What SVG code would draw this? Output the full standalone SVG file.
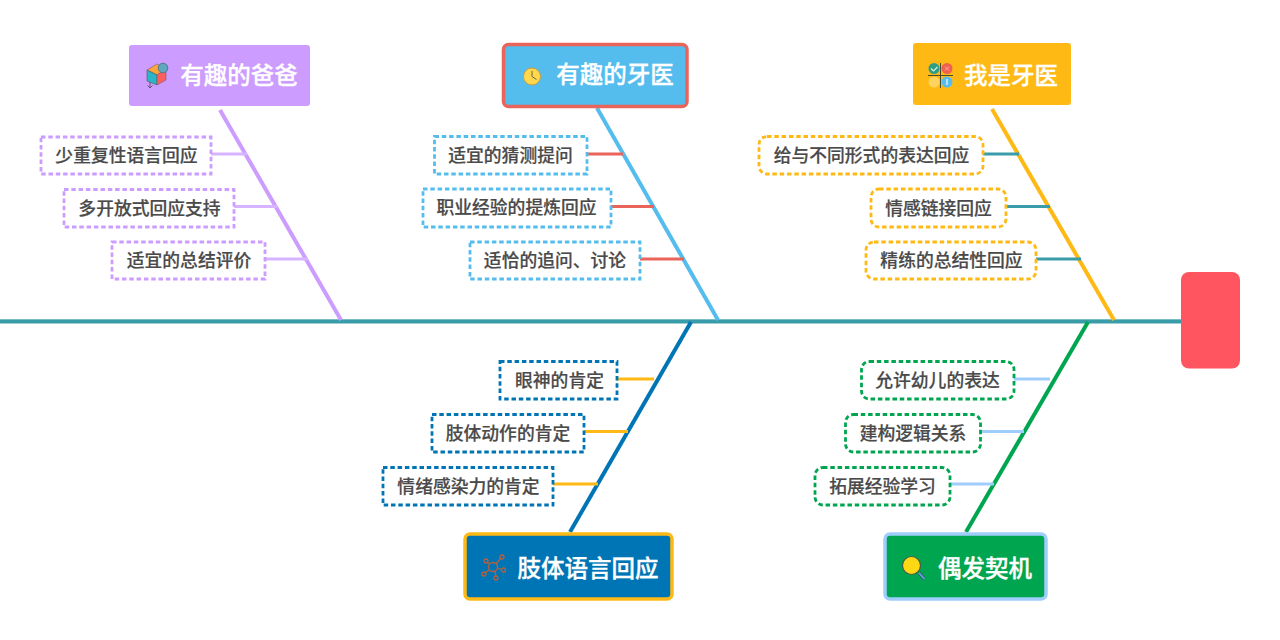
<svg xmlns="http://www.w3.org/2000/svg" width="1280" height="640" viewBox="0 0 1280 640">
<style>
text{font-family:"Noto Sans CJK SC","Noto Sans",sans-serif;text-anchor:middle}
.t{font-size:23.5px;font-weight:500;fill:#fff;stroke:#fff;stroke-width:.3}
.s{font-size:17.8px;font-weight:500;fill:#4a4a4a;stroke:#4a4a4a;stroke-width:.2}
.b{fill:#fff;stroke-width:2.800;stroke-dasharray:4.500 2.800}
.p{stroke:#cc9cff}.u{stroke:#55bdee}.y{stroke:#ffb914}.d{stroke:#0075b5}.g{stroke:#00a64f}
line{fill:none}
.m{stroke-width:4}.l{stroke-width:3}
</style>
<g id="connectors">
<line x1="0" y1="319.500" x2="1181" y2="319.500" stroke="#b8dfe2" stroke-width="1"/>
<line x1="0" y1="321.500" x2="1181" y2="321.500" stroke="#3a9ca8" stroke-width="3.800"/>
<line class="m p" x1="220" y1="110" x2="341" y2="320"/>
<line class="m u" x1="597" y1="108" x2="718" y2="320"/>
<line class="m y" x1="992" y1="109" x2="1114" y2="320"/>
<line class="m d" x1="691" y1="322" x2="570" y2="532"/>
<line class="m g" x1="1088" y1="322" x2="966" y2="532"/>
<g stroke="#d7b4ff"><line class="l" x1="211" y1="154" x2="247" y2="154"/><line class="l" x1="234" y1="206.500" x2="277" y2="206.500"/><line class="l" x1="265" y1="259" x2="308" y2="259"/></g>
<g stroke="#e9645a"><line class="l" x1="587" y1="154" x2="623" y2="154"/><line class="l" x1="611" y1="206.500" x2="654" y2="206.500"/><line class="l" x1="640" y1="259" x2="684" y2="259"/></g>
<g stroke="#3a9ca8"><line class="l" x1="983" y1="154" x2="1019" y2="154"/><line class="l" x1="1006" y1="206.500" x2="1050" y2="206.500"/><line class="l" x1="1036" y1="259" x2="1081" y2="259"/></g>
<g stroke="#ffb914"><line class="l" x1="617" y1="379" x2="654" y2="379"/><line class="l" x1="584" y1="431.500" x2="628" y2="431.500"/><line class="l" x1="553" y1="484" x2="598" y2="484"/></g>
<g stroke="#a0cefc"><line class="l" x1="1014" y1="379" x2="1050" y2="379"/><line class="l" x1="980" y1="431.500" x2="1024" y2="431.500"/><line class="l" x1="950" y1="484" x2="994" y2="484"/></g>
</g>
<g id="head"><rect x="1181" y="272" width="59" height="96.500" rx="8" fill="#ff5560"/></g>
<g id="n1">
<rect x="129" y="45" width="181" height="61" rx="3" fill="#cc9cff"/>
<path d="M147 70l10-6 9 5-9 6z" fill="#ffa53d" stroke="#7a5a6a" stroke-width=".6"/>
<path d="M147 70l10 5v10l-10-4z" fill="#2bb5c8" stroke="#555" stroke-width=".6"/>
<path d="M157 75l9-6v11l-9 5z" fill="#ff5f5f" stroke="#7a5a6a" stroke-width=".6"/>
<circle cx="163" cy="68" r="4.800" fill="#5fa8c0" stroke="#55788a"/>
<path d="M150 82v6m-2.500-2.500l2.500 2.500 2.500-2.500" fill="none" stroke="#6a4f80"/>
<text class="t" x="239" y="84">有趣的爸爸</text>
</g>
<g id="n2">
<rect x="503.500" y="44.500" width="183.500" height="62" rx="5" fill="#55bdee" stroke="#e9645a" stroke-width="3.500"/>
<circle cx="532" cy="76.500" r="8.500" fill="#ffd84d" stroke="#c8a040"/>
<path d="M532 71v5.500l4.500 3" fill="none" stroke="#6a6040" stroke-width="1"/>
<text class="t" x="615" y="83">有趣的牙医</text>
</g>
<g id="n3">
<rect x="913" y="43" width="158" height="62" rx="3" fill="#ffb914"/>
<circle cx="934" cy="68.500" r="5.500" fill="#2e9d86"/><circle cx="947" cy="68.500" r="5.500" fill="#f0604f"/>
<circle cx="934" cy="82" r="5.500" fill="#ffd45e"/><circle cx="947" cy="82" r="5.500" fill="#55bdee"/>
<path d="M931 68.500l2.500 2.500 4-4" fill="none" stroke="#d8f0e0" stroke-width="1.200"/>
<path d="M945 66.500l4 4m0-4l-4 4" fill="none" stroke="#ffb0a0" stroke-width="1"/>
<path d="M947 79v6" fill="none" stroke="#e8f6fc" stroke-width="1.400"/>
<path d="M928 75.500h25M940.500 63v25" fill="none" stroke="#4a4a30" stroke-width="1"/>
<text class="t" x="1011" y="84">我是牙医</text>
</g>
<g id="n4">
<rect x="465" y="534" width="207" height="65" rx="5" fill="#0075b5" stroke="#ffb914" stroke-width="3.500"/>
<g fill="none" stroke="#b5603f" stroke-width="1.300">
<circle cx="493" cy="567" r="4.500"/>
<path d="M490 564l-3-2M496 564l5-6M497.500 568l4 1.500M495 571l1 5M489 570l-4 3"/>
<circle cx="486" cy="561" r="2"/><circle cx="502" cy="557" r="2"/><circle cx="503.500" cy="570" r="2"/><circle cx="496" cy="578" r="2"/><circle cx="484" cy="574" r="2"/>
</g>
<text class="t" x="588" y="577">肢体语言回应</text>
</g>
<g id="n5">
<rect x="885" y="534" width="161" height="65" rx="5" fill="#00a64f" stroke="#a0cefc" stroke-width="3.500"/>
<path d="M919 573l5.500 6" fill="none" stroke="#3a5a70" stroke-width="3.400"/>
<path d="M919 573l5.500 6" fill="none" stroke="#5ab0d8" stroke-width="1.800"/>
<circle cx="911.500" cy="565.500" r="9" fill="#ffd814" stroke="#4a5a4a" stroke-width="1.200"/>
<text class="t" x="985" y="577">偶发契机</text>
</g>
<g id="s1"><rect class="b p" x="41" y="137" width="170" height="37"/><text class="s" x="126.500" y="162">少重复性语言回应</text></g>
<g id="s2"><rect class="b p" x="64" y="189.500" width="170" height="37.500"/><text class="s" x="149.500" y="214.500">多开放式回应支持</text></g>
<g id="s3"><rect class="b p" x="112" y="242" width="153" height="37"/><text class="s" x="189" y="267">适宜的总结评价</text></g>
<g id="s4"><rect class="b u" x="434.500" y="136.500" width="152.500" height="37.500"/><text class="s" x="510.500" y="162">适宜的猜测提问</text></g>
<g id="s5"><rect class="b u" x="423" y="189" width="188" height="38"/><text class="s" x="516.500" y="214">职业经验的提炼回应</text></g>
<g id="s6"><rect class="b u" x="470" y="242" width="170" height="37"/><text class="s" x="555" y="267">适恰的追问、讨论</text></g>
<g id="s7"><rect class="b y" x="759" y="136.500" width="224" height="37.500" rx="8"/><text class="s" x="871.500" y="162">给与不同形式的表达回应</text></g>
<g id="s8"><rect class="b y" x="871" y="189" width="135" height="38" rx="8"/><text class="s" x="938.500" y="214.500">情感链接回应</text></g>
<g id="s9"><rect class="b y" x="866" y="242" width="170" height="37" rx="8"/><text class="s" x="951.500" y="267">精练的总结性回应</text></g>
<g id="s10"><rect class="b d" x="500" y="361.500" width="117" height="37.500"/><text class="s" x="559.500" y="387">眼神的肯定</text></g>
<g id="s11"><rect class="b d" x="432" y="414.500" width="152" height="37.500"/><text class="s" x="508" y="439.500">肢体动作的肯定</text></g>
<g id="s12"><rect class="b d" x="383" y="467.500" width="170" height="37.500"/><text class="s" x="468.500" y="493">情绪感染力的肯定</text></g>
<g id="s13"><rect class="b g" x="861.500" y="361.500" width="152.500" height="37.500" rx="8"/><text class="s" x="937.500" y="387">允许幼儿的表达</text></g>
<g id="s14"><rect class="b g" x="845.500" y="414.500" width="135" height="37.500" rx="8"/><text class="s" x="913" y="439.500">建构逻辑关系</text></g>
<g id="s15"><rect class="b g" x="815" y="467.500" width="135" height="37.500" rx="8"/><text class="s" x="882.500" y="493">拓展经验学习</text></g>
</svg>
